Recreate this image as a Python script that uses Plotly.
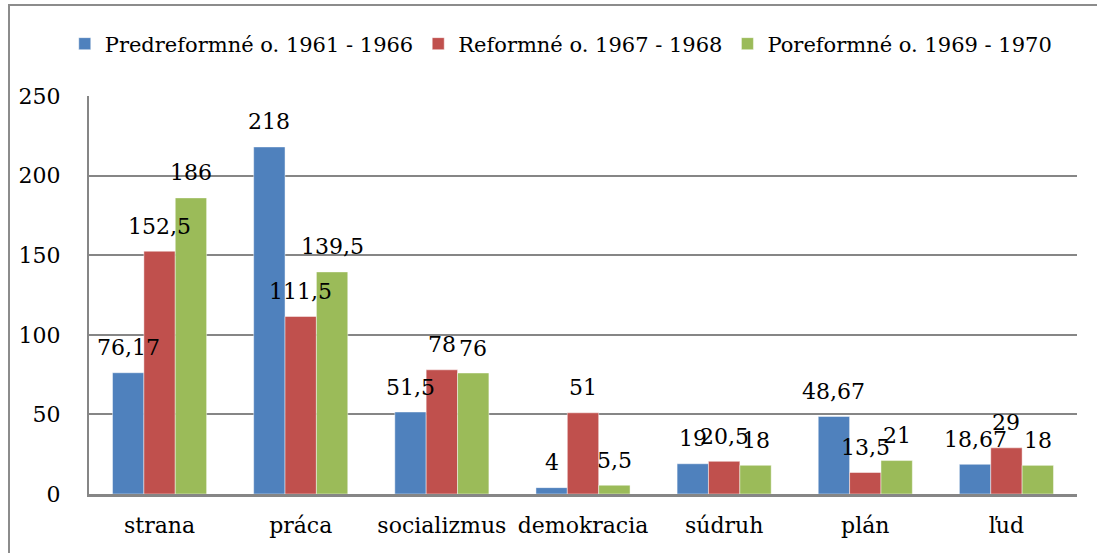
import plotly.graph_objects as go

categories = ["strana", "práca", "socializmus", "demokracia", "súdruh", "plán", "ľud"]
series_names = ["Predreformné o. 1961 - 1966", "Reformné o. 1967 - 1968", "Poreformné o. 1969 - 1970"]
pre_values = [76.17, 218, 51.5, 4, 19, 48.67, 18.67]
ref_values = [152.5, 111.5, 78, 51, 20.5, 13.5, 29]
post_values = [186, 139.5, 76, 5.5, 18, 21, 18]
y_ticks = [0, 50, 100, 150, 200, 250]

colors = ["#4F81BD", "#C0504D", "#9BBB59"]
FONT = "DejaVu Serif"
FS = 22
LEG_FS = 21

W, H = 1097, 553
ML, MR, MT, MB = 89, 20, 96, 59
BARGAP = 1 / 3


def fmt(v):
    if float(v).is_integer():
        return str(int(v))
    return ("%g" % v).replace(".", ",")


fig = go.Figure()
all_series = [pre_values, ref_values, post_values]
for name, vals, col in zip(series_names, all_series, colors):
    fig.add_trace(go.Bar(
        x=categories, y=vals, name=name,
        marker=dict(color=col, line=dict(color="rgba(255,255,255,0.45)", width=1)),
    ))

cat_px = (W - ML - MR) / len(categories)
bar_px = cat_px * (1 - BARGAP) / len(all_series)
annotations = []
for k, vals in enumerate(all_series):
    for c, v in zip(categories, vals):
        annotations.append(dict(
            x=c, y=v, xref="x", yref="y", text=fmt(v), showarrow=False,
            xshift=(k - 1) * bar_px, yshift=25, yanchor="middle", xanchor="center",
            font=dict(family=FONT, size=FS, color="black"),
        ))

# outer chart border (partly outside the captured area)
shapes = [dict(
    type="rect", xref="paper", yref="paper",
    x0=(9 - ML) / (W - ML - MR), x1=1.2,
    y0=-0.5, y1=(H - MB - 5) / (H - MT - MB),
    line=dict(color="#8c8c8c", width=2), fillcolor="rgba(0,0,0,0)", layer="below",
)]

fig.update_layout(
    width=W, height=H,
    margin=dict(l=ML, r=MR, t=MT, b=MB, pad=0, autoexpand=False),
    paper_bgcolor="white", plot_bgcolor="white",
    barmode="group", bargap=BARGAP, bargroupgap=0,
    font=dict(family=FONT, size=FS, color="black"),
    showlegend=True,
    legend=dict(
        orientation="h", x=0.478, xanchor="center", y=(H - MB - 44) / (H - MT - MB), yanchor="middle",
        font=dict(family=FONT, size=LEG_FS, color="black"), itemwidth=30,
        bgcolor="rgba(0,0,0,0)", traceorder="normal",
    ),
    annotations=annotations,
    shapes=shapes,
    xaxis=dict(
        showgrid=False, showline=True, linecolor="#868686", linewidth=2.5,
        ticks="", ticklabelstandoff=10, tickfont=dict(family=FONT, size=FS, color="black"),
        fixedrange=True,
    ),
    yaxis=dict(
        range=[0, 250], tickvals=y_ticks, ticktext=[str(t) for t in y_ticks],
        showgrid=True, gridcolor="#868686", gridwidth=1.5,
        showline=True, linecolor="#868686", linewidth=2,
        zeroline=False, ticks="", ticklabelstandoff=22,
        tickfont=dict(family=FONT, size=FS, color="black"), fixedrange=True,
    ),
)

fig.write_html("out.html", config={"displayModeBar": False},
               post_script="document.body.style.margin='0';document.body.style.overflow='hidden';")
